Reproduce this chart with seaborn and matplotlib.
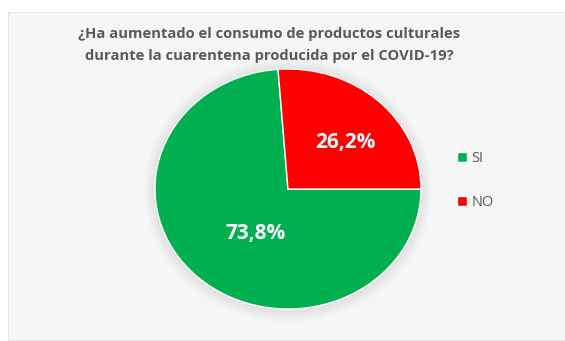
import matplotlib
matplotlib.use("Agg")
import matplotlib.pyplot as plt
import seaborn as sns
from matplotlib.patches import Rectangle, Ellipse

categories = ["SI", "NO"]
values = [73.8, 26.2]
colors = ["#00B050", "#FF0000"]
title = "¿Ha aumentado el consumo de productos culturales\ndurante la cuarentena producida por el COVID-19?"

sns.set_theme(style="white")
plt.rcParams['font.family'] = ['Open Sans', 'DejaVu Sans']

W, H = 565, 341
fig = plt.figure(figsize=(W / 100, H / 100), dpi=100)
fig.patch.set_facecolor("white")

# background panel
bg = fig.add_axes([8 / W, 0, 1, (H - 12) / H], zorder=-5)
bg.add_patch(Rectangle((0, 0), 1, 1, transform=bg.transAxes, facecolor="#f6f6f6",
                       edgecolor="#e2e2e2", linewidth=1.2))
bg.axis("off")

cx, cy = 288, H - 189
rx, ry = 133, 120
ax = fig.add_axes([(cx - 1.25 * rx) / W, (cy - 1.25 * ry) / H, 2.5 * rx / W, 2.5 * ry / H], zorder=1)
ax.set_facecolor("none")

# soft shadow
for i, a in enumerate([0.035, 0.04, 0.045, 0.05]):
    ax.add_patch(Ellipse((0.0, -0.01), 2 + 0.04 * (4 - i), 2 + 0.05 * (4 - i),
                         facecolor="#888888", edgecolor="none", alpha=a, zorder=0))

wedges, texts, autotexts = ax.pie(values, colors=colors, startangle=94.3, counterclock=True,
                                  autopct=lambda p: f"{p:.1f}%".replace(".", ","),
                                  pctdistance=0.6,
                                  textprops=dict(color="white", fontsize=15, fontweight="bold"))
for w in wedges:
    w.set_zorder(2)
autotexts[0].set_position((-0.24, -0.367))
autotexts[1].set_position((0.43, 0.39))
for t in autotexts:
    t.set_zorder(3)
ax.set_aspect("auto")
ax.set_xlim(-1.25, 1.25)
ax.set_ylim(-1.25, 1.25)
ax.axis("off")

fig.text(269 / W, 1 - 45 / H, title, ha="center", va="center", fontsize=10.6,
         fontweight="bold", color="#595959", linespacing=1.65)

leg = fig.legend(wedges, categories, loc="upper left", bbox_to_anchor=(444 / W, 1 - 138 / H),
                 frameon=False, handlelength=0.7, handleheight=0.7, handletextpad=0.3,
                 labelspacing=2.0, fontsize=10.5)
for t in leg.get_texts():
    t.set_color("#595959")

fig.savefig("out.png", dpi=100, facecolor="white")
